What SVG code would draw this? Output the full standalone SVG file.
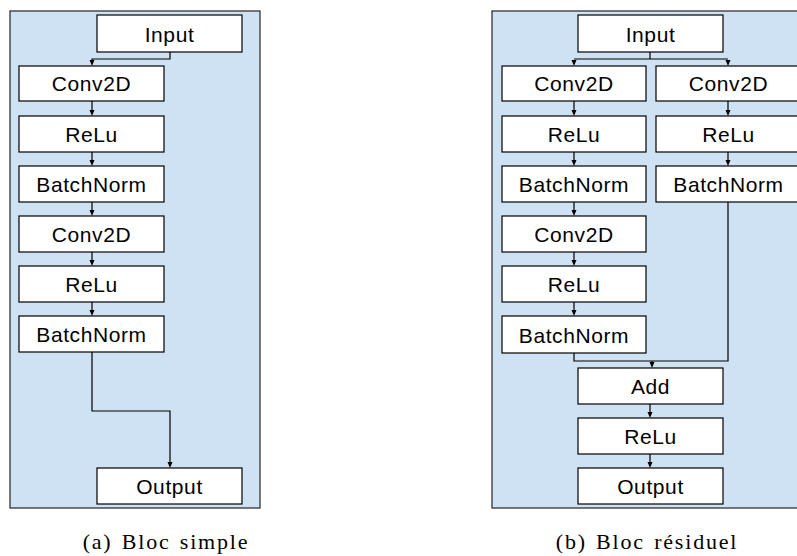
<svg xmlns="http://www.w3.org/2000/svg" width="797" height="556" viewBox="0 0 797 556">
<style>
.panel{fill:#cfe2f3;stroke:#333;stroke-width:1.3}
.box{fill:#fff;stroke:#000;stroke-width:1.2}
.lbl{font-family:"Liberation Sans",Arial,sans-serif;font-size:21px;fill:#000;text-anchor:middle;letter-spacing:0.6px}
.cap{font-family:"Liberation Serif","Times New Roman",serif;font-size:22px;fill:#000;text-anchor:middle;letter-spacing:1.8px;word-spacing:2px}
.ln{fill:none;stroke:#000;stroke-width:1.2}
</style>
<rect class="panel" x="10" y="11" width="250" height="497"/>
<rect class="panel" x="492" y="11" width="320" height="497"/>
<g id="connectors">
<path class="ln" d="M170,52 V59 H92 V60"/>
<path class="ln" d="M574,59 H728"/>
<path class="ln" d="M650,52 V59"/>
<path class="ln" d="M92,352 V411 H170 V462"/>
<path class="ln" d="M574,353 V361 H728 V202"/>
<path class="ln" d="M652,361 V362"/>
<path class="ln" d="M92,101 V110 M92,152 V160 M92,202 V210 M92,252 V260 M92,302 V310"/>
<path class="ln" d="M574,101 V110 M574,152 V160 M574,202 V210 M574,252 V260 M574,302 V310"/>
<path class="ln" d="M728,101 V110 M728,152 V160"/>
<path class="ln" d="M650,404 V412 M650,454 V462"/>
<g id="arrowheads" fill="#000">
<path d="M89.5,60 L94.5,60 L92,66 Z"/>
<path d="M89.5,110 L94.5,110 L92,116 Z"/>
<path d="M89.5,160 L94.5,160 L92,166 Z"/>
<path d="M89.5,210 L94.5,210 L92,216 Z"/>
<path d="M89.5,260 L94.5,260 L92,266 Z"/>
<path d="M89.5,310 L94.5,310 L92,316 Z"/>
<path d="M167.5,462 L172.5,462 L170,468 Z"/>
<path d="M571.5,60 L576.5,60 L574,66 Z"/>
<path d="M725.5,60 L730.5,60 L728,66 Z"/>
<path d="M571.5,110 L576.5,110 L574,116 Z"/>
<path d="M571.5,160 L576.5,160 L574,166 Z"/>
<path d="M571.5,210 L576.5,210 L574,216 Z"/>
<path d="M571.5,260 L576.5,260 L574,266 Z"/>
<path d="M571.5,310 L576.5,310 L574,316 Z"/>
<path d="M725.5,110 L730.5,110 L728,116 Z"/>
<path d="M725.5,160 L730.5,160 L728,166 Z"/>
<path d="M649.5,362 L654.5,362 L652,368 Z"/>
<path d="M647.5,412 L652.5,412 L650,418 Z"/>
<path d="M647.5,462 L652.5,462 L650,468 Z"/>
</g>
</g>
<g id="a-input"><rect class="box" x="97" y="15" width="145" height="37"/><text class="lbl" x="169.5" y="42">Input</text></g>
<g id="a-conv1"><rect class="box" x="19" y="66" width="145" height="35"/><text class="lbl" x="91.5" y="91">Conv2D</text></g>
<g id="a-relu1"><rect class="box" x="19" y="116" width="145" height="36"/><text class="lbl" x="91.5" y="142">ReLu</text></g>
<g id="a-bn1"><rect class="box" x="19" y="166" width="145" height="36"/><text class="lbl" x="91.5" y="192">BatchNorm</text></g>
<g id="a-conv2"><rect class="box" x="19" y="216" width="145" height="36"/><text class="lbl" x="91.5" y="242">Conv2D</text></g>
<g id="a-relu2"><rect class="box" x="19" y="266" width="145" height="36"/><text class="lbl" x="91.5" y="292">ReLu</text></g>
<g id="a-bn2"><rect class="box" x="19" y="316" width="145" height="36"/><text class="lbl" x="91.5" y="342">BatchNorm</text></g>
<g id="a-output"><rect class="box" x="97" y="468" width="145" height="36"/><text class="lbl" x="169.5" y="494">Output</text></g>
<g id="b-input"><rect class="box" x="578" y="15" width="145" height="37"/><text class="lbl" x="650.5" y="42">Input</text></g>
<g id="b-conv1"><rect class="box" x="502" y="66" width="144" height="35"/><text class="lbl" x="574" y="91">Conv2D</text></g>
<g id="b-relu1"><rect class="box" x="502" y="116" width="144" height="36"/><text class="lbl" x="574" y="142">ReLu</text></g>
<g id="b-bn1"><rect class="box" x="502" y="166" width="144" height="36"/><text class="lbl" x="574" y="192">BatchNorm</text></g>
<g id="b-conv2"><rect class="box" x="502" y="216" width="144" height="36"/><text class="lbl" x="574" y="242">Conv2D</text></g>
<g id="b-relu2"><rect class="box" x="502" y="266" width="144" height="36"/><text class="lbl" x="574" y="292">ReLu</text></g>
<g id="b-bn2"><rect class="box" x="502" y="316" width="144" height="37"/><text class="lbl" x="574" y="343">BatchNorm</text></g>
<g id="b-rconv"><rect class="box" x="656" y="66" width="145" height="35"/><text class="lbl" x="728.5" y="91">Conv2D</text></g>
<g id="b-rrelu"><rect class="box" x="656" y="116" width="145" height="36"/><text class="lbl" x="728.5" y="142">ReLu</text></g>
<g id="b-rbn"><rect class="box" x="656" y="166" width="145" height="36"/><text class="lbl" x="728.5" y="192">BatchNorm</text></g>
<g id="b-add"><rect class="box" x="578" y="368" width="145" height="36"/><text class="lbl" x="650.5" y="394">Add</text></g>
<g id="b-relu3"><rect class="box" x="578" y="418" width="145" height="36"/><text class="lbl" x="650.5" y="444">ReLu</text></g>
<g id="b-output"><rect class="box" x="578" y="468" width="145" height="36"/><text class="lbl" x="650.5" y="494">Output</text></g>
<text class="cap" x="166" y="549">(a) Bloc simple</text>
<text class="cap" x="647" y="549">(b) Bloc résiduel</text>
</svg>
